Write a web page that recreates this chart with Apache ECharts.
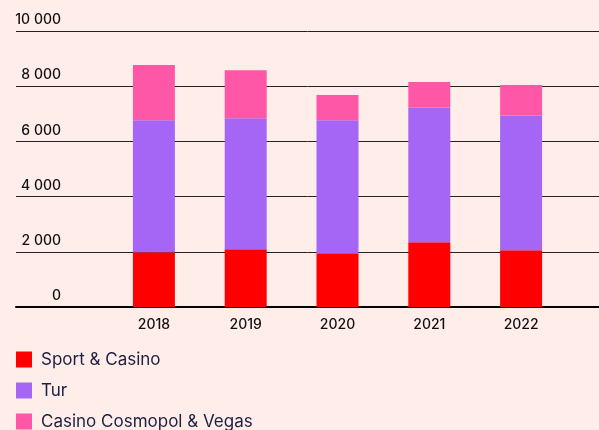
<!DOCTYPE html>
<html>
<head>
<meta charset="utf-8">
<script src="https://cdn.jsdelivr.net/npm/echarts@6/dist/echarts.min.js"></script>
<style>
html,body{margin:0;padding:0;background:#FFEDEA;}
#c{width:599px;height:430px;}
</style>
</head>
<body>
<div id="c"></div>
<script>
const categories = ['2018', '2019', '2020', '2021', '2022'];
const sportCasino = [1980, 2090, 1950, 2350, 2060];
const tur = [4790, 4750, 4820, 4880, 4880];
const cosmopolVegas = [2000, 1740, 910, 920, 1100];
const seriesNames = ['Sport & Casino', 'Tur', 'Casino Cosmopol & Vegas'];
const yTicks = [0, 2000, 4000, 6000, 8000, 10000];

const colors = ['#FF0000', '#A566F5', '#FF57A8'];
const fmt = v => String(v).replace(/\B(?=(\d{3})+(?!\d))/g, ' ');
const font = 'Inter, "Noto Sans", sans-serif';

const chart = echarts.init(document.getElementById('c'));
chart.setOption({
  backgroundColor: '#FFEDEA',
  animation: false,
  textStyle: { fontFamily: font },
  legend: {
    orient: 'vertical', left: 16, top: 351, padding: 0, height: 120,
    itemWidth: 16, itemHeight: 16, itemGap: 14,
    icon: 'rect',
    textStyle: { fontSize: 17, lineHeight: 16, color: '#1B2040', fontFamily: font, padding: [0, 0, 0, 4] },
    data: seriesNames
  },
  grid: [
    { left: 16, right: 0, top: 31, bottom: 123 },
    { left: 108, right: 32, top: 31, bottom: 123 }
  ],
  xAxis: [
    { type: 'category', gridIndex: 0, data: categories,
      axisLine: { show: true, lineStyle: { color: '#000', width: 2 } },
      axisTick: { show: false }, axisLabel: { show: false } },
    { type: 'category', gridIndex: 1, data: categories,
      axisLine: { show: false }, axisTick: { show: false },
      axisLabel: { margin: 11, fontSize: 14, color: '#111', fontWeight: 500, fontFamily: font } }
  ],
  yAxis: [
    { type: 'value', gridIndex: 0, min: yTicks[0], max: yTicks[yTicks.length - 1], interval: 2000,
      axisLine: { show: false }, axisTick: { show: false },
      splitLine: { show: true, lineStyle: { color: '#222', width: 1 } },
      axisLabel: { inside: true, margin: 45, align: 'right', verticalAlign: 'bottom',
        padding: [0, 0, 4, 0], fontSize: 14, color: '#111', fontWeight: 500, fontFamily: font,
        formatter: fmt } },
    { type: 'value', gridIndex: 1, min: yTicks[0], max: yTicks[yTicks.length - 1], interval: 2000,
      show: false }
  ],
  series: [
    { name: seriesNames[0], type: 'bar', stack: 't', xAxisIndex: 1, yAxisIndex: 1,
      barWidth: 42, data: sportCasino, itemStyle: { color: colors[0] } },
    { name: seriesNames[1], type: 'bar', stack: 't', xAxisIndex: 1, yAxisIndex: 1,
      barWidth: 42, data: tur, itemStyle: { color: colors[1] } },
    { name: seriesNames[2], type: 'bar', stack: 't', xAxisIndex: 1, yAxisIndex: 1,
      barWidth: 42, data: cosmopolVegas, itemStyle: { color: colors[2] } }
  ]
});
</script>
</body>
</html>
